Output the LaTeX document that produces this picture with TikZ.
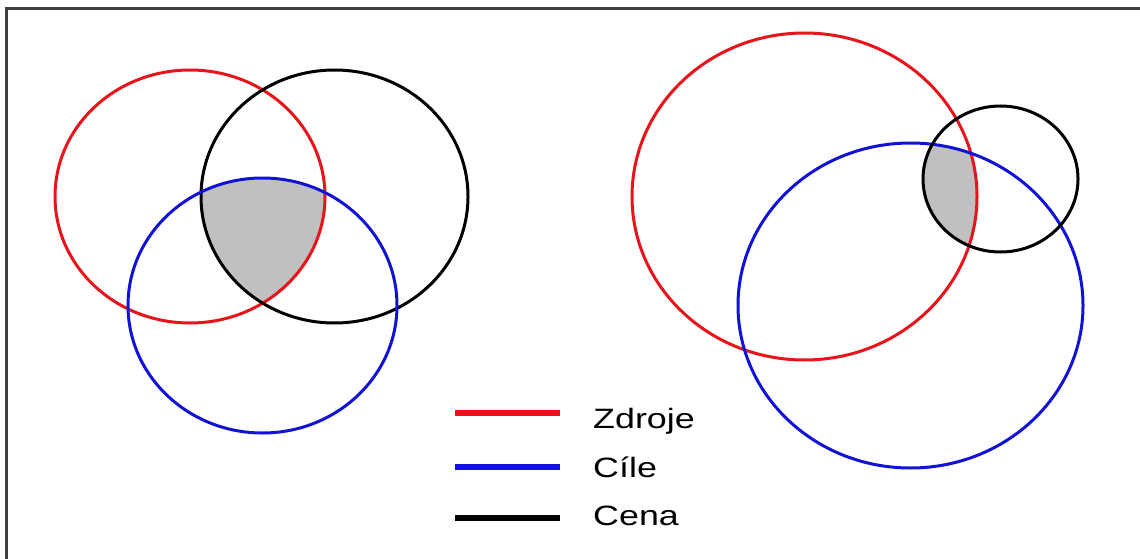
\documentclass[tikz,border=0pt]{standalone}
\usepackage{fontspec}
\setmainfont{Liberation Sans}
\definecolor{vred}{HTML}{E8141B}
\definecolor{vblue}{HTML}{1212D6}
\definecolor{vgray}{HTML}{C0C0C0}
\definecolor{frameclr}{HTML}{404040}
\begin{document}
\begin{tikzpicture}[x=1pt,y=-1pt,
  ring/.style={line width=3pt},
  legline/.style={line width=6pt},
  legtext/.style={anchor=base west, inner sep=0pt, font=\fontsize{28}{30}\selectfont}]
\useasboundingbox (0,0) rectangle (1140,559);
\clip (0,0) rectangle (1140,559);
\fill[white] (0,0) rectangle (1140,559);
\draw[frameclr, line width=3pt] (6.5,580) -- (6.5,8.5) -- (1160,8.5);

% ---- left diagram ----
\begin{scope}
  \clip (190,196.5) ellipse [x radius=135, y radius=126.5];
  \clip (334.5,196.5) ellipse [x radius=133.5, y radius=126.5];
  \fill[vgray] (262.5,305.5) ellipse [x radius=134.5, y radius=127.5];
\end{scope}
\draw[ring, vred] (190,196.5) ellipse [x radius=135, y radius=126.5];
\draw[ring, black] (334.5,196.5) ellipse [x radius=133.5, y radius=126.5];
\draw[ring, vblue] (262.5,305.5) ellipse [x radius=134.5, y radius=127.5];

% ---- right diagram ----
\begin{scope}
  \clip (804.5,196.5) ellipse [x radius=172.5, y radius=163.5];
  \clip (910.5,305.5) ellipse [x radius=172.5, y radius=162.5];
  \fill[vgray] (1000.5,179) ellipse [x radius=77.5, y radius=73];
\end{scope}
\draw[ring, vred] (804.5,196.5) ellipse [x radius=172.5, y radius=163.5];
\draw[ring, vblue] (910.5,305.5) ellipse [x radius=172.5, y radius=162.5];
\draw[ring, black] (1000.5,179) ellipse [x radius=77.5, y radius=73];

% ---- legend ----
\coordinate (r1) at (455,413); \coordinate (r2) at (560,413);
\coordinate (b1) at (455,467); \coordinate (b2) at (560,467);
\coordinate (k1) at (455,518); \coordinate (k2) at (560,518);
\draw[legline, vred] (r1) -- (r2);
\draw[legline, vblue] (b1) -- (b2);
\draw[legline, black] (k1) -- (k2);
\node[legtext] (tz) at (593,428) {\scalebox{1.28}[1]{Zdroje}};
\node[legtext] (tc) at (593,477) {\scalebox{1.28}[1]{Cíle}};
\node[legtext] (tn) at (593,525) {\scalebox{1.28}[1]{Cena}};
\end{tikzpicture}
\end{document}
